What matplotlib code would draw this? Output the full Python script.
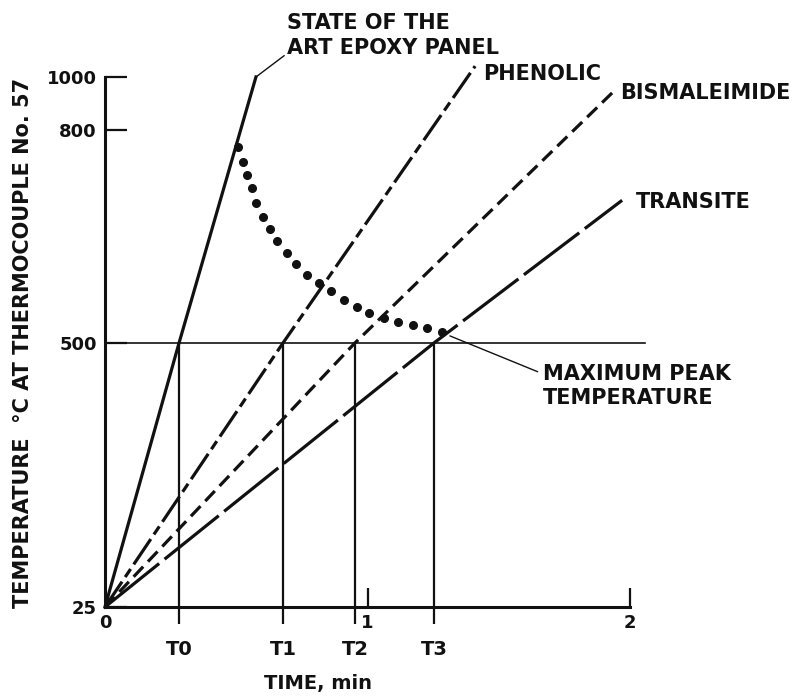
import matplotlib
matplotlib.use('Agg')
import matplotlib.pyplot as plt
import numpy as np

plt.rcParams['font.family'] = ['DejaVu Sans']
plt.rcParams['font.weight'] = 'bold'
plt.rcParams['lines.scale_dashes'] = False

# time (min) / temperature (deg C)
t_marks = [0.282, 0.678, 0.952, 1.253]
t_labels = ['T0', 'T1', 'T2', 'T3']

epoxy_t = [0, 0.282, 0.575]
epoxy_temp = [25, 500, 1000]

phenolic_t = [0, 0.678, 1.41]
phenolic_temp = [25, 500, 1041]

bisma_t = [0, 0.952, 1.935]
bisma_temp = [25, 500, 943]

transite_t = [0, 1.253, 1.97]
transite_temp = [25, 500, 701]

peak_t = [0.507, 0.526, 0.541, 0.560, 0.575, 0.602, 0.629, 0.655, 0.693, 0.728,
          0.770, 0.815, 0.861, 0.910, 0.960, 1.006, 1.063, 1.116, 1.173, 1.227, 1.284]
peak_temp = [776, 755, 737, 718, 697, 677, 661, 644, 627, 611,
             596, 585, 573, 561, 551, 542, 535, 530, 525, 521, 515]

ytick_vals = [25, 500, 800, 1000]

# the temperature axis is not linear on the original, piecewise mapping
scale_temp = [-1000, 25, 500, 800, 1000, 2000]
scale_pos = [-569.7, 0, 264, 477, 530, 795]

def fwd(v):
    return np.interp(v, scale_temp, scale_pos)

def inv(v):
    return np.interp(v, scale_pos, scale_temp)

W, H = 795, 697
def fp(x, y):
    # pixel position (from top-left) -> figure fraction
    return (x / W, 1 - y / H)

fig = plt.figure(figsize=(W / 100, H / 100), dpi=100)
ax = fig.add_axes([105 / W, 90 / H, 525 / W, 530 / H])
ax.set_yscale('function', functions=(fwd, inv))
ax.set_xlim(0, 2)
ax.set_ylim(25, 1000)

k = '#111111'
lw = 2.3
ax.plot(epoxy_t, epoxy_temp, color=k, lw=lw, clip_on=False)
ax.plot(phenolic_t, phenolic_temp, color=k, lw=lw, ls=(0, (22, 4, 7, 4)), clip_on=False)
ax.plot(bisma_t, bisma_temp, color=k, lw=lw, ls=(0, (10, 5)), clip_on=False)
ax.plot(transite_t, transite_temp, color=k, lw=lw, ls=(0, (50, 5)), clip_on=False)
ax.plot(peak_t, peak_temp, 'o', ms=5.5, color=k, ls='none', clip_on=False)

ax.plot([0, 2.057], [500, 500], color=k, lw=1.2, clip_on=False)
ax.vlines(t_marks, 25, 500, color=k, lw=1.6)

for s in ['top', 'right']:
    ax.spines[s].set_visible(False)
ax.spines['left'].set_bounds(25, 1000)
ax.spines['bottom'].set_bounds(0, 2)
ax.spines['left'].set_linewidth(2.2)
ax.spines['bottom'].set_linewidth(2.2)
ax.spines['left'].set_color(k)
ax.spines['bottom'].set_color(k)

ax.set_yticks(ytick_vals, [str(v) for v in ytick_vals])
ax.tick_params(axis='y', direction='in', length=16, width=1.6, pad=6, labelsize=13, colors=k)
ax.yaxis.set_minor_locator(matplotlib.ticker.NullLocator())

ax.set_xticks([0, 1, 2], ['0', '1', '2'])
ax.set_xticks(t_marks, t_labels, minor=True)
ax.tick_params(axis='x', which='major', direction='in', length=14, width=1.6, pad=5, labelsize=13, colors=k)
ax.tick_params(axis='x', which='minor', direction='out', length=12, width=1.6, pad=12, labelsize=14, colors=k)
ax.xaxis.get_major_ticks()[0].tick1line.set_visible(False)

fig.text(*fp(23, 343), 'TEMPERATURE  °C AT THERMOCOUPLE No. 57', rotation=90,
         ha='center', va='center', fontsize=15, color=k)
fig.text(*fp(318, 683), 'TIME, min', ha='center', va='center', fontsize=14, color=k)

ax.annotate('STATE OF THE\nART EPOXY PANEL', xy=(0.575, 1000), xycoords='data',
            xytext=fp(287, 58), textcoords='figure fraction', ha='left', va='bottom',
            fontsize=15, linespacing=1.3, color=k, annotation_clip=False,
            arrowprops=dict(arrowstyle='-', lw=1, color=k, shrinkA=0, shrinkB=0, relpos=(0, 0.1)))
ax.annotate('MAXIMUM PEAK\nTEMPERATURE', xy=(1.314, 510), xycoords='data',
            xytext=fp(543, 386), textcoords='figure fraction', ha='left', va='center',
            fontsize=15, linespacing=1.2, color=k, annotation_clip=False,
            arrowprops=dict(arrowstyle='-', lw=1, color=k, shrinkA=2, shrinkB=0, relpos=(0, 0.78)))

fig.text(*fp(483, 74), 'PHENOLIC', ha='left', va='center', fontsize=15, color=k)
fig.text(*fp(620, 93), 'BISMALEIMIDE', ha='left', va='center', fontsize=15, color=k)
fig.text(*fp(636, 202), 'TRANSITE', ha='left', va='center', fontsize=15, color=k)

fig.savefig('out.png', dpi=100, facecolor='white')
